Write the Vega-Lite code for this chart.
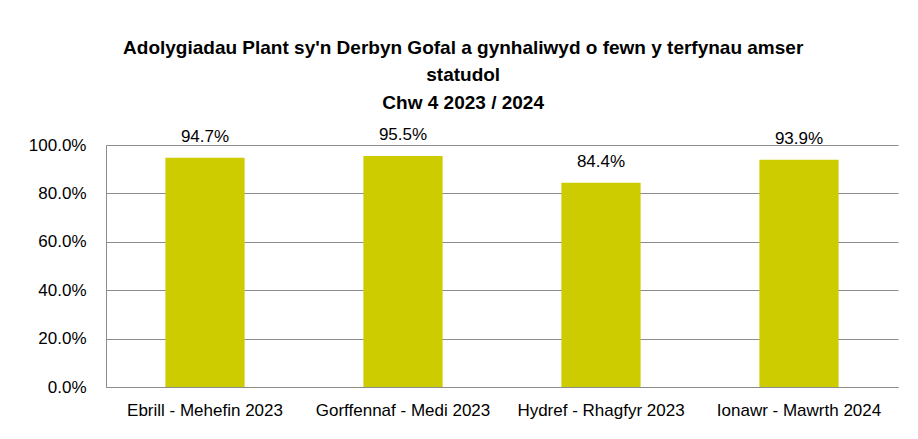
{
  "$schema": "https://vega.github.io/schema/vega-lite/v6.json",
  "width": 792,
  "height": 242,
  "autosize": "none",
  "padding": {"left": 106, "top": 145, "right": 20, "bottom": 52},
  "background": "white",
  "title": {
    "text": ["Adolygiadau Plant sy'n Derbyn Gofal a gynhaliwyd o fewn y terfynau amser", "statudol", "Chw 4 2023 / 2024"],
    "anchor": "middle",
    "frame": "bounds",
    "font": "Liberation Sans, Arial, sans-serif",
    "fontSize": 19,
    "fontWeight": "bold",
    "color": "black",
    "lineHeight": 27.5,
    "offset": 13
  },
  "data": {
    "values": [
      {"period": "Ebrill - Mehefin 2023", "value": 0.947},
      {"period": "Gorffennaf - Medi 2023", "value": 0.955},
      {"period": "Hydref - Rhagfyr 2023", "value": 0.844},
      {"period": "Ionawr - Mawrth 2024", "value": 0.939}
    ]
  },
  "encoding": {
    "x": {
      "field": "period",
      "type": "nominal",
      "sort": null,
      "scale": {"paddingInner": 0.6, "paddingOuter": 0.3},
      "axis": {
        "title": null,
        "labelAngle": 0,
        "ticks": false,
        "domain": true,
        "domainColor": "#8c8c8c",
        "labelFont": "Liberation Sans, Arial, sans-serif",
        "labelFontSize": 17,
        "labelLimit": 0,
        "labelColor": "black",
        "labelPadding": 15
      }
    },
    "y": {
      "field": "value",
      "type": "quantitative",
      "scale": {"domain": [0, 1]},
      "axis": {
        "title": null,
        "format": ".1%",
        "values": [0, 0.2, 0.4, 0.6, 0.8, 1],
        "ticks": false,
        "domain": true,
        "domainColor": "#8c8c8c",
        "gridColor": "#8c8c8c",
        "gridWidth": 1,
        "labelFont": "Liberation Sans, Arial, sans-serif",
        "labelFontSize": 17,
        "labelColor": "black",
        "labelPadding": 20
      }
    }
  },
  "layer": [
    {"mark": {"type": "bar", "color": "#CCCC00"}},
    {
      "mark": {
        "type": "text",
        "baseline": "alphabetic",
        "dy": -16,
        "font": "Liberation Sans, Arial, sans-serif",
        "fontSize": 17,
        "color": "black"
      },
      "encoding": {
        "text": {"field": "value", "type": "quantitative", "format": ".1%"}
      }
    }
  ],
  "config": {"view": {"stroke": null}}
}
